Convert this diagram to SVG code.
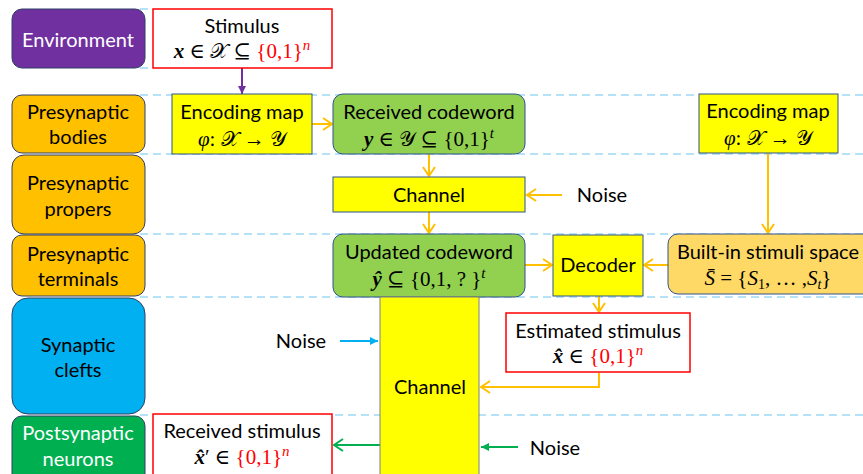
<svg xmlns="http://www.w3.org/2000/svg" width="863" height="474" viewBox="0 0 863 474">
  <style>
    .lbl { font-family: Lato, "Liberation Sans", sans-serif; font-size: 20px; fill: #000; text-anchor: middle; }
    .wlbl { fill: #fff; }
    .math { font-family: "Liberation Serif", "DejaVu Serif", serif; font-size: 21px; fill: #000; text-anchor: middle; }
    .bi { font-weight: bold; font-style: italic; }
    .it { font-style: italic; }
    .red { fill: #FF0000; }
    .scr { font-family: "DejaVu Sans", "Noto Sans", serif; font-style: normal; }
    .layer { stroke: #2F3F66; stroke-width: 1; }
    .box { stroke: #2F528F; stroke-width: 1; }
    .yellow { fill: #FFFF00; }
    .green { fill: #92D050; }
    .redbox { fill: #FFFFFF; stroke: #FF0000; stroke-width: 1.5; }
    .dash { stroke: #9DD9F5; stroke-width: 1.5; stroke-dasharray: 8 5; fill: none; }
    .orange { stroke: #FFC000; stroke-width: 2; fill: none; }
  </style>
  <defs>
    <marker id="chevOrange" markerUnits="userSpaceOnUse" markerWidth="14" markerHeight="14" refX="11" refY="7" orient="auto">
      <path d="M2,1 L11,7 L2,13" fill="none" stroke="#FFC000" stroke-width="2"/>
    </marker>
    <marker id="chevGreen" markerUnits="userSpaceOnUse" markerWidth="14" markerHeight="14" refX="11" refY="7" orient="auto">
      <path d="M2,1 L11,7 L2,13" fill="none" stroke="#00B050" stroke-width="2"/>
    </marker>
    <marker id="triPurple" markerUnits="userSpaceOnUse" markerWidth="10" markerHeight="10" refX="8" refY="4" orient="auto">
      <path d="M0,0 L8,4 L0,8 z" fill="#7030A0"/>
    </marker>
    <marker id="triBlue" markerUnits="userSpaceOnUse" markerWidth="10" markerHeight="10" refX="8" refY="4" orient="auto">
      <path d="M0,0 L8,4 L0,8 z" fill="#00B0F0"/>
    </marker>
    <marker id="triGreen" markerUnits="userSpaceOnUse" markerWidth="10" markerHeight="10" refX="8" refY="4" orient="auto">
      <path d="M0,0 L8,4 L0,8 z" fill="#00B050"/>
    </marker>
  </defs>

  <!-- layer boundaries -->
  <g id="gridlines">
    <line class="dash" x1="140" y1="9" x2="153" y2="9"/>
    <line class="dash" x1="140" y1="68" x2="153" y2="68"/>
    <line class="dash" x1="140" y1="95" x2="863" y2="95"/>
    <line class="dash" x1="140" y1="154" x2="863" y2="154"/>
    <line class="dash" x1="140" y1="234" x2="863" y2="234"/>
    <line class="dash" x1="140" y1="297" x2="863" y2="297"/>
    <line class="dash" x1="140" y1="415" x2="863" y2="415"/>
  </g>

  <!-- layer labels -->
  <g id="layer-environment">
    <rect class="layer" x="12" y="9" width="133" height="59" rx="10" fill="#7030A0"/>
    <text class="lbl wlbl" x="78" y="47">Environment</text>
  </g>
  <g id="layer-bodies">
    <rect class="layer" x="12" y="95" width="133" height="58" rx="10" fill="#FFC000"/>
    <text class="lbl" x="78" y="119">Presynaptic</text>
    <text class="lbl" x="78" y="144">bodies</text>
  </g>
  <g id="layer-propers">
    <rect class="layer" x="12" y="155" width="133" height="79" rx="12" fill="#FFC000"/>
    <text class="lbl" x="78" y="190">Presynaptic</text>
    <text class="lbl" x="78" y="216">propers</text>
  </g>
  <g id="layer-terminals">
    <rect class="layer" x="12" y="235" width="133" height="61" rx="10" fill="#FFC000"/>
    <text class="lbl" x="78" y="261">Presynaptic</text>
    <text class="lbl" x="78" y="286">terminals</text>
  </g>
  <g id="layer-clefts">
    <rect class="layer" x="12" y="298" width="133" height="116" rx="16" fill="#00B0F0"/>
    <text class="lbl" x="78" y="352">Synaptic</text>
    <text class="lbl" x="78" y="377">clefts</text>
  </g>
  <g id="layer-postsynaptic">
    <rect class="layer" x="12" y="416" width="133" height="70" rx="10" fill="#00B050"/>
    <text class="lbl wlbl" x="78" y="440">Postsynaptic</text>
    <text class="lbl wlbl" x="78" y="466">neurons</text>
  </g>

  <!-- connectors -->
  <g id="connectors">
    <line x1="242" y1="68" x2="242" y2="94" stroke="#7030A0" stroke-width="2" marker-end="url(#triPurple)"/>
    <line class="orange" x1="312" y1="124" x2="332" y2="124" marker-end="url(#chevOrange)"/>
    <line class="orange" x1="429" y1="154" x2="429" y2="176" marker-end="url(#chevOrange)"/>
    <line class="orange" x1="562" y1="195" x2="527" y2="195" marker-end="url(#chevOrange)"/>
    <line class="orange" x1="429" y1="212" x2="429" y2="233" marker-end="url(#chevOrange)"/>
    <line class="orange" x1="525" y1="265" x2="552" y2="265" marker-end="url(#chevOrange)"/>
    <line class="orange" x1="768" y1="153" x2="768" y2="233" marker-end="url(#chevOrange)"/>
    <line class="orange" x1="668" y1="265" x2="644" y2="265" marker-end="url(#chevOrange)"/>
    <line class="orange" x1="599" y1="296" x2="599" y2="312" marker-end="url(#chevOrange)"/>
    <polyline class="orange" points="599,373 599,387 481,387" marker-end="url(#chevOrange)"/>
    <line x1="340" y1="341" x2="378" y2="341" stroke="#00B0F0" stroke-width="2" marker-end="url(#triBlue)"/>
    <line x1="380" y1="445" x2="334" y2="445" stroke="#00B050" stroke-width="2" marker-end="url(#chevGreen)"/>
    <line x1="518" y1="447" x2="481" y2="447" stroke="#00B050" stroke-width="2" marker-end="url(#triGreen)"/>
  </g>

  <!-- nodes -->
  <g id="stimulus">
    <rect class="redbox" x="153" y="9" width="179" height="59"/>
    <text class="lbl" x="242" y="33">Stimulus</text>
    <text class="math" x="242" y="58"><tspan class="bi">x</tspan> ∈ <tspan class="scr">𝒳</tspan> ⊆ <tspan class="red">{0,1}</tspan><tspan class="red it" dy="-8" font-size="15">n</tspan></text>
  </g>
  <g id="encoding-map-left">
    <rect class="box yellow" x="172" y="94" width="140" height="60"/>
    <text class="lbl" x="242" y="119">Encoding map</text>
    <text class="math" x="242" y="146"><tspan class="it">φ</tspan>: <tspan class="scr">𝒳</tspan> → <tspan class="scr">𝒴</tspan></text>
  </g>
  <g id="received-codeword">
    <rect class="box green" x="333" y="94" width="192" height="60" rx="10"/>
    <text class="lbl" x="429" y="119">Received codeword</text>
    <text class="math" x="429" y="146"><tspan class="bi">y</tspan> ∈ <tspan class="scr">𝒴</tspan> ⊆ {0,1}<tspan class="it" dy="-8" font-size="15">t</tspan></text>
  </g>
  <g id="channel-top">
    <rect class="box yellow" x="333" y="177" width="192" height="35"/>
    <text class="lbl" x="429" y="202">Channel</text>
  </g>
  <g id="noise-top">
    <text class="lbl" x="602" y="202">Noise</text>
  </g>
  <g id="updated-codeword">
    <rect class="box green" x="333" y="234" width="192" height="63" rx="10"/>
    <text class="lbl" x="429" y="259">Updated codeword</text>
    <text class="math" x="429" y="286"><tspan class="bi">ŷ</tspan> ⊆ {0,1, ? }<tspan class="it" dy="-8" font-size="15">t</tspan></text>
  </g>
  <g id="decoder">
    <rect class="box yellow" x="553" y="235" width="90" height="61"/>
    <text class="lbl" x="598" y="272">Decoder</text>
  </g>
  <g id="encoding-map-right">
    <rect class="box yellow" x="699" y="94" width="139" height="59"/>
    <text class="lbl" x="768" y="118">Encoding map</text>
    <text class="math" x="768" y="145"><tspan class="it">φ</tspan>: <tspan class="scr">𝒳</tspan> → <tspan class="scr">𝒴</tspan></text>
  </g>
  <g id="stimuli-space">
    <rect class="box" x="668" y="234" width="210" height="60" rx="10" fill="#FFD966"/>
    <text class="lbl" x="768" y="259">Built-in stimuli space</text>
    <text class="math" x="768" y="285"><tspan class="it">S̄</tspan> = {<tspan class="it">S</tspan><tspan dy="4" font-size="14">1</tspan><tspan dy="-4">, … ,</tspan><tspan class="it">S</tspan><tspan class="it" dy="4" font-size="14">t</tspan><tspan dy="-4">}</tspan></text>
  </g>
  <g id="estimated-stimulus">
    <rect class="redbox" x="506" y="313" width="184" height="59"/>
    <text class="lbl" x="598" y="338">Estimated stimulus</text>
    <text class="math" x="598" y="363"><tspan class="bi">x̂</tspan> ∈ <tspan class="red">{0,1}</tspan><tspan class="red it" dy="-8" font-size="15">n</tspan></text>
  </g>
  <g id="channel-cleft">
    <rect x="380" y="297" width="99" height="190" fill="#FFFF00" stroke="#7F7F7F" stroke-width="1"/>
    <text class="lbl" x="430" y="394">Channel</text>
  </g>
  <g id="noise-cleft">
    <text class="lbl" x="301" y="348">Noise</text>
  </g>
  <g id="noise-post">
    <text class="lbl" x="555" y="455">Noise</text>
  </g>
  <g id="received-stimulus">
    <rect class="redbox" x="153" y="414" width="179" height="70"/>
    <text class="lbl" x="242" y="438">Received stimulus</text>
    <text class="math" x="242" y="464"><tspan class="bi">x̂</tspan>′ ∈ <tspan class="red">{0,1}</tspan><tspan class="red it" dy="-8" font-size="15">n</tspan></text>
  </g>
</svg>
